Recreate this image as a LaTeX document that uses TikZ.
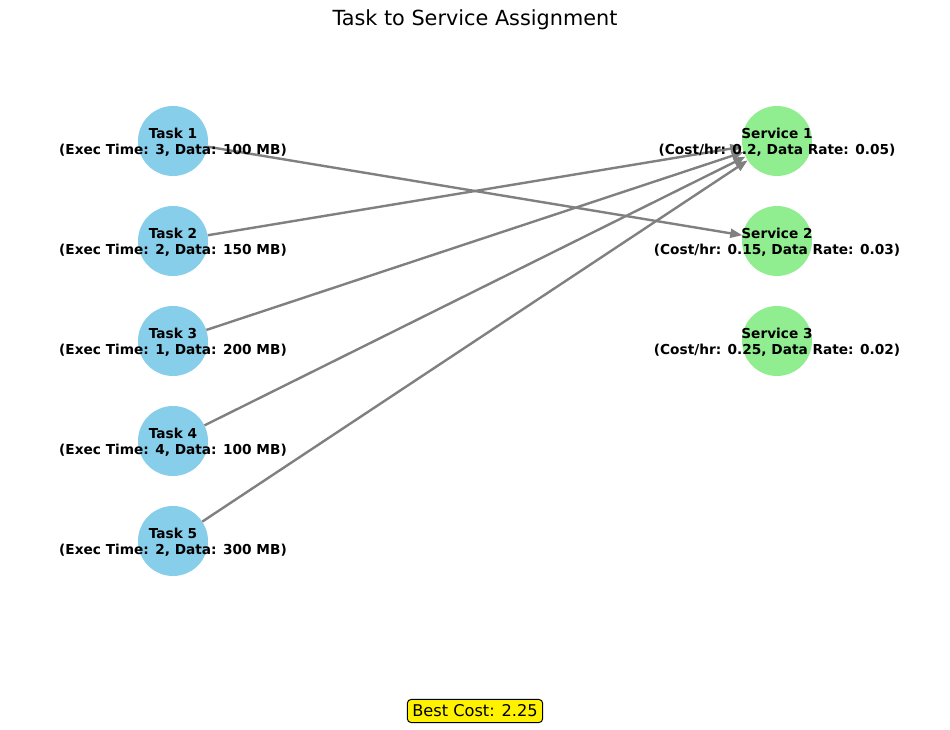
\documentclass[tikz,border=0pt]{standalone}
\usepackage{fontspec}
\setmainfont{DejaVu Sans}
\usetikzlibrary{arrows.meta}
\definecolor{taskblue}{HTML}{87CEEB}
\definecolor{servgreen}{HTML}{90EE90}
\definecolor{edgegray}{HTML}{808080}
\begin{document}
\begin{tikzpicture}[x=1pt,y=1pt,node distance=100pt,
		task/.style = {circle, fill=taskblue, minimum size=70pt, inner sep=0pt},
		service/.style = {circle, fill=servgreen, minimum size=70pt, inner sep=0pt},
		lbl/.style = {align=center, inner sep=0pt, yshift=-1.5pt, font=\fontsize{13.7}{15.5}\selectfont\bfseries},
		edge/.style = {draw=edgegray, line width=2.4pt, -{Triangle[length=12pt,width=9pt]}}]
		\useasboundingbox (0,0) rectangle (950,-730);
		\node (title) at (475,-20) {\fontsize{20.8}{24}\selectfont Task to Service Assignment};
		\node[task] (t1) at (173,-141) {};
		\node[task] (t2) [below of=t1] {};
		\node[task] (t3) [below of=t2] {};
		\node[task] (t4) [below of=t3] {};
		\node[task] (t5) [below of=t4] {};
		\node[service] (s1) at (777,-141) {};
		\node[service] (s2) [below of=s1] {};
		\node[service] (s3) [below of=s2] {};
		\draw[edge] (t1) -- (s2);
		\draw[edge] (t2) -- (s1);
		\draw[edge] (t3) -- (s1);
		\draw[edge] (t4) -- (s1);
		\draw[edge] (t5) -- (s1);
		\node[lbl] (t1l) at (t1) {Task 1\\(Exec Time: 3, Data: 100 MB)};
		\node[lbl] (t2l) at (t2) {Task 2\\(Exec Time: 2, Data: 150 MB)};
		\node[lbl] (t3l) at (t3) {Task 3\\(Exec Time: 1, Data: 200 MB)};
		\node[lbl] (t4l) at (t4) {Task 4\\(Exec Time: 4, Data: 100 MB)};
		\node[lbl] (t5l) at (t5) {Task 5\\(Exec Time: 2, Data: 300 MB)};
		\node[lbl] (s1l) at (s1) {Service 1\\(Cost/hr: 0.2, Data Rate: 0.05)};
		\node[lbl] (s2l) at (s2) {Service 2\\(Cost/hr: 0.15, Data Rate: 0.03)};
		\node[lbl] (s3l) at (s3) {Service 3\\(Cost/hr: 0.25, Data Rate: 0.02)};
		\node[draw, fill=yellow, rounded corners=4pt, line width=1pt, inner xsep=5pt, inner ysep=5.5pt] (cost) at (475,-711) {\fontsize{16.2}{20}\selectfont Best Cost: 2.25};
	\end{tikzpicture}
\end{document}
